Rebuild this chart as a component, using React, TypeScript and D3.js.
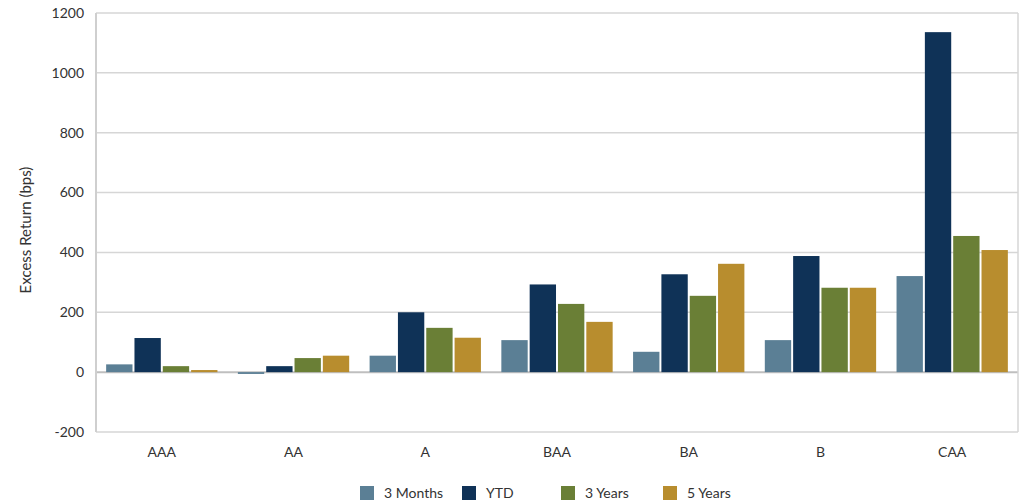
import React from "react";
import * as d3 from "d3";

const categories = ["AAA", "AA", "A", "BAA", "BA", "B", "CAA"];
const seriesNames = ["3 Months", "YTD", "3 Years", "5 Years"];
const threeMonths = [26, -6, 55, 107, 68, 107, 321];
const ytd = [114, 20, 200, 293, 327, 388, 1136];
const threeYears = [20, 47, 148, 228, 255, 282, 455];
const fiveYears = [7, 55, 115, 168, 362, 282, 408];
const yTicks = [-200, 0, 200, 400, 600, 800, 1000, 1200];
const colors = ["#5b7f95", "#0f3257", "#6a7f36", "#b88d2e"];

const series = [threeMonths, ytd, threeYears, fiveYears];

export default function App() {
  const W = 1026, H = 503;
  const left = 96, right = 1018, top = 13, bottom = 432;
  const font = "'Century Gothic', 'Lato', 'Open Sans', sans-serif";
  const y = d3.scaleLinear().domain([-200, 1200]).range([bottom, top]);
  const x0 = d3.scaleBand().domain(categories).range([left, right]).paddingInner(0.155).paddingOuter(0.077);
  const x1 = d3.scaleBand().domain(seriesNames).range([0, x0.bandwidth()]).paddingInner(0.07);
  const legendX = [360, 462, 561, 663];
  return (
    <svg width={W} height={H} style={{ position: "absolute", left: 0, top: 0, background: "#fff" }}>
      {yTicks.map((t) => (
        <g key={t}>
          <line x1={left} x2={right} y1={y(t)} y2={y(t)} stroke={t === 0 ? "#bfbfbf" : "#d6d6d6"} strokeWidth={t === 0 ? 2 : 1.5} />
          <text x={84} y={y(t)} dy="0.35em" textAnchor="end" fontSize={14} fill="#333" fontFamily={font}>{t}</text>
        </g>
      ))}
      <line x1={left} x2={left} y1={top} y2={bottom} stroke="#cfcfcf" strokeWidth={2} />
      <line x1={right} x2={right} y1={top} y2={bottom} stroke="#d6d6d6" strokeWidth={1.5} />
      {categories.map((c, i) => (
        <g key={c}>
          {series.map((s, j) => {
            const v = s[i];
            const bx = (x0(c) as number) + (x1(seriesNames[j]) as number);
            return (
              <rect key={j} x={bx} width={x1.bandwidth()} y={y(Math.max(0, v))} height={Math.abs(y(v) - y(0))} fill={colors[j]} />
            );
          })}
          <text x={(x0(c) as number) + x0.bandwidth() / 2} y={452} dy="0.35em" textAnchor="middle" fontSize={14} fill="#333" fontFamily={font}>{c}</text>
        </g>
      ))}
      <text transform={`translate(26,230) rotate(-90)`} textAnchor="middle" dy="0.35em" fontSize={15} fill="#333" fontFamily={font}>Excess Return (bps)</text>
      {seriesNames.map((n, j) => (
        <g key={n}>
          <rect x={legendX[j]} y={486} width={14} height={14} fill={colors[j]} />
          <text x={legendX[j] + 24} y={493} dy="0.35em" fontSize={14} fill="#333" fontFamily={font}>{n}</text>
        </g>
      ))}
    </svg>
  );
}
